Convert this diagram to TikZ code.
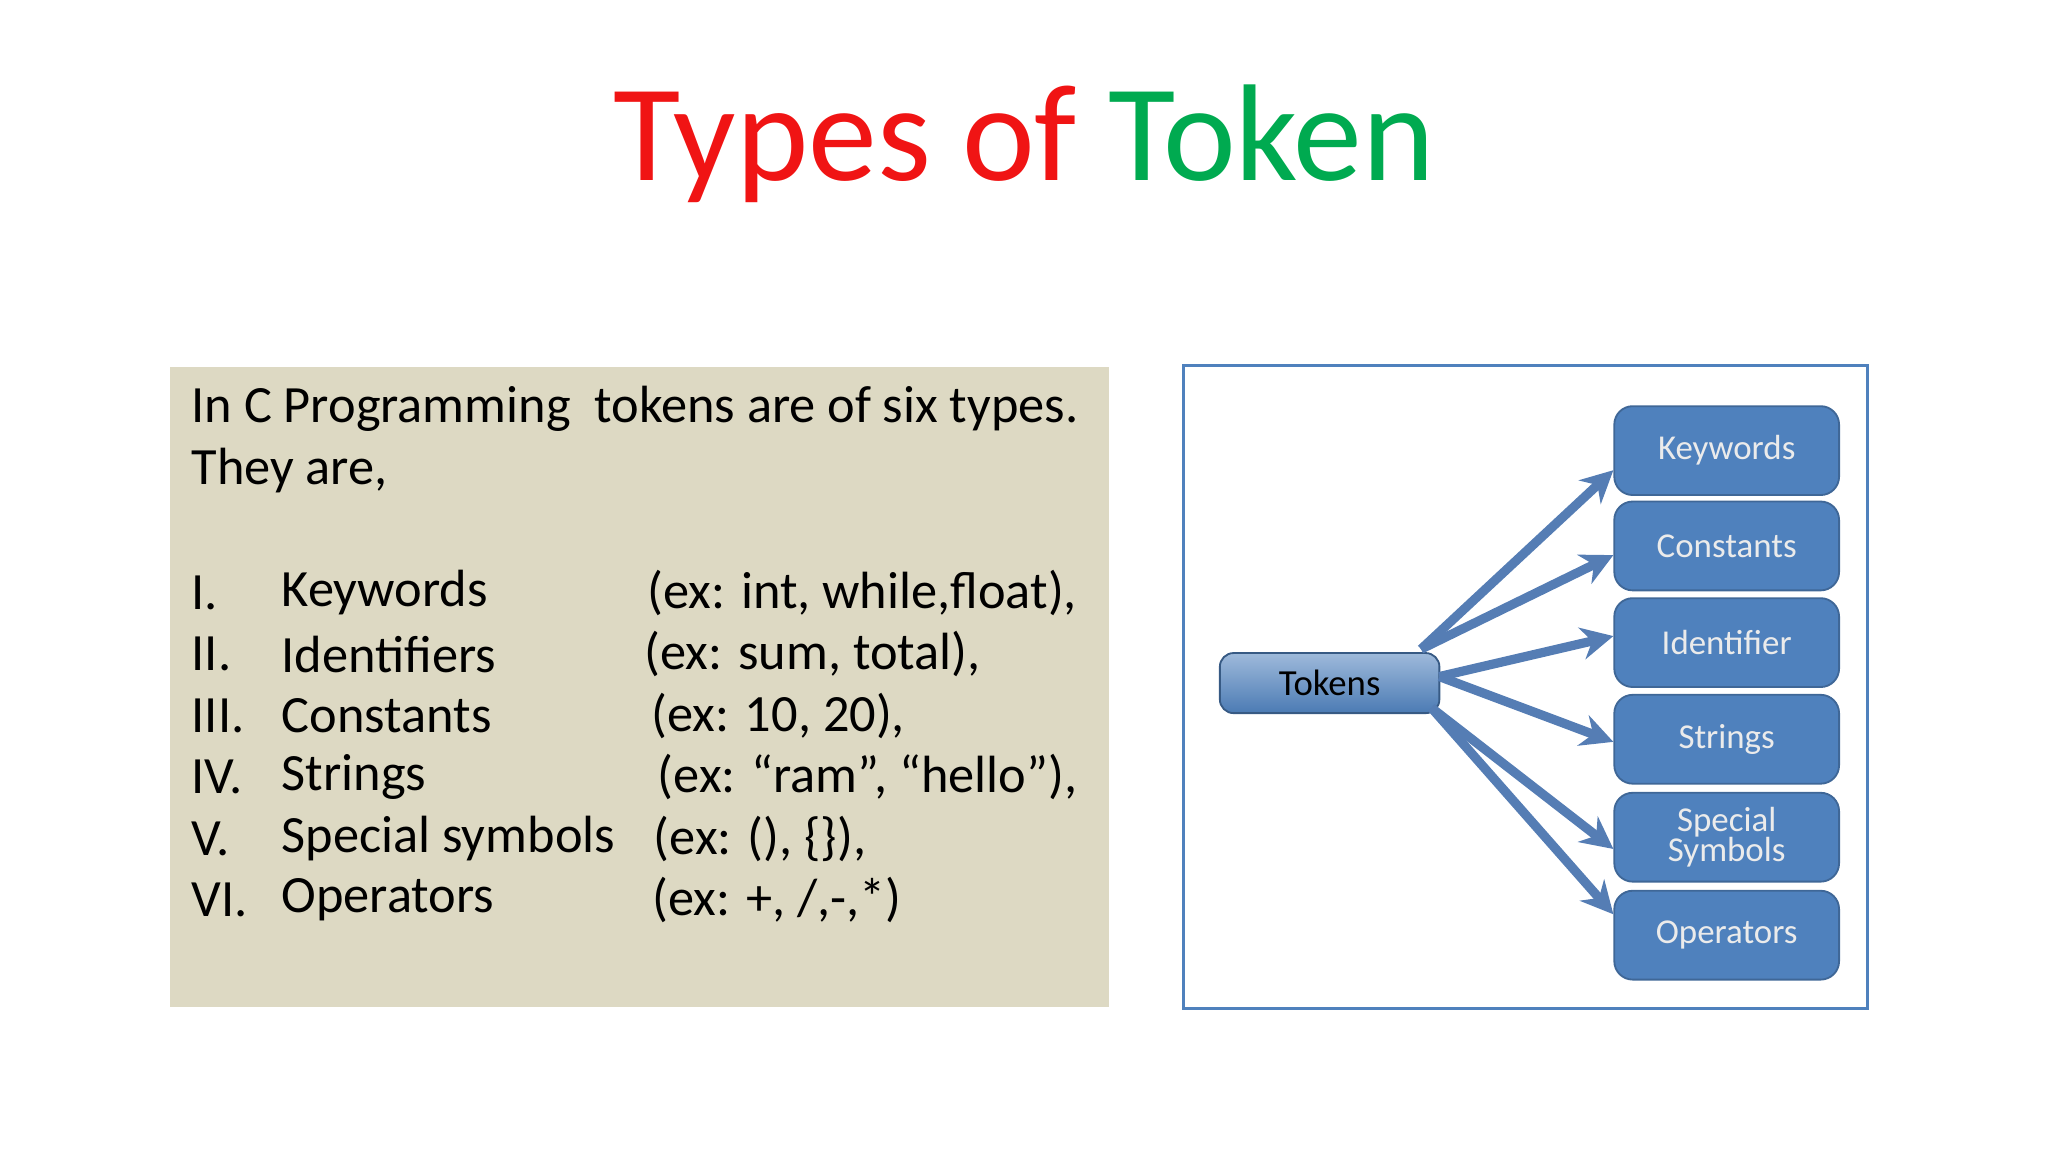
\documentclass[tikz,border=0pt]{standalone}
\usepackage{fontspec}
\setmainfont{Carlito}
\usetikzlibrary{arrows.meta,positioning}
\definecolor{tokred}{RGB}{240,20,20}
\definecolor{tokgreen}{RGB}{0,170,80}
\definecolor{panelbg}{RGB}{221,217,195}
\definecolor{boxblue}{RGB}{79,129,189}
\definecolor{linkblue}{RGB}{85,125,180}
\begin{document}
\begin{tikzpicture}[x=0.01cm,y=-0.01cm,
    body/.style={anchor=west,inner sep=0pt,font=\fontsize{11.4}{13}\selectfont},
    kind/.style={draw=boxblue!80!black,fill=boxblue,rounded corners=4pt,minimum width=1.72cm,minimum height=0.68cm,
                 text=white!92!black,align=center,font=\fontsize{7.6}{8.4}\selectfont,inner sep=1pt},
    link/.style={draw=linkblue,line width=2pt,-{Stealth[length=7pt,width=7pt]}}]
  \useasboundingbox (0,0) rectangle (1568,882);
  % title
  \node (title) at (784,110) {\fontsize{30}{36}\selectfont\textcolor{tokred}{Types of }\textcolor{tokgreen}{Token}};
  % left panel
  \fill[panelbg] (130,281) rectangle (849,771);
  \node[body] (intro) at (146,313) {In C Programming\ \ tokens are of six types.};
  \node[body] (they) at (146,360) {They are,};
  \foreach \num/\name/\ey in {I./Keywords/454, II./Identifiers/501, III./Constants/548,
      IV./Strings/595, V./Special symbols/642, VI./Operators/689}{
    \node[body] at (146,\ey) {\num};
    \node[body] at (215,\ey) {\name};
  }
  \node[body] (e1) at (495,454) {(ex: int, while,float),};
  \node[body] (e2) at (493,501) {(ex: sum, total),};
  \node[body] (e3) at (498,548) {(ex: 10, 20),};
  \node[body] (e4) at (503,595) {(ex: “ram”, “hello”),};
  \node[body] (e5) at (500,642) {(ex: (), \{\}),};
  \node[body] (e6) at (499,689) {(ex: +, /,-,*)};
  % right panel
  \draw[boxblue,line width=0.6pt] (906,280) rectangle (1430,772);
  \node[draw=boxblue!70!black,top color=boxblue!55,bottom color=boxblue!95!black,rounded corners=3pt,
        minimum width=1.68cm,minimum height=0.46cm,inner sep=1pt,font=\fontsize{8}{9}\selectfont] (tokens) at (1018,523) {Tokens};
  \node[kind] (kw) at (1322,345) {Keywords};
  \node[kind] (cn) at (1322,418) {Constants};
  \node[kind] (id) at (1322,492) {Identifier};
  \node[kind] (st) at (1322,566) {Strings};
  \node[kind] (sp) at (1322,641) {Special\\[-2pt]Symbols};
  \node[kind] (op) at (1322,716) {Operators};
  \coordinate (t1) at (1088,497);
  \coordinate (t2) at (1102,518);
  \coordinate (t3) at (1096,542);
  \draw[link] (t1) -- (kw.west |- 0,360);
  \draw[link] (t1) -- (cn.west |- 0,425);
  \draw[link] (t2) -- (id.west |- 0,487);
  \draw[link] (t2) -- (st.west |- 0,568);
  \draw[link] (t3) -- (sp.west |- 0,650);
  \draw[link] (t3) -- (op.west |- 0,700);
\end{tikzpicture}
\end{document}
